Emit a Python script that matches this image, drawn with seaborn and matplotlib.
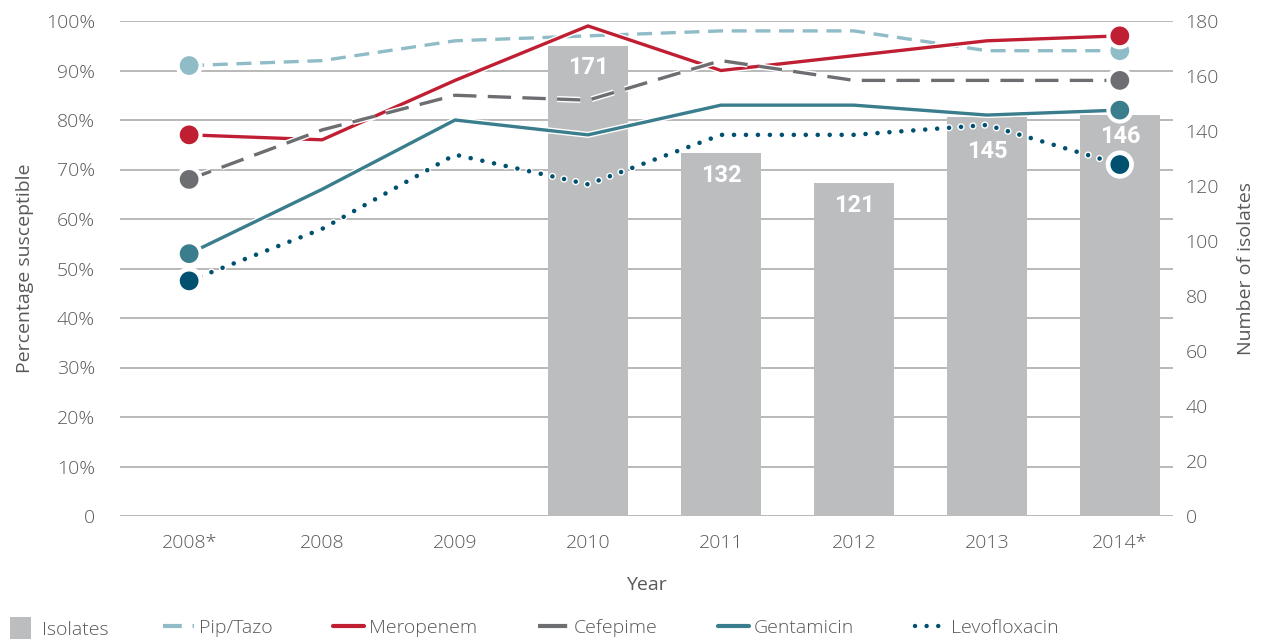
import numpy as np
import pandas as pd
import matplotlib
matplotlib.use("Agg")
import matplotlib.pyplot as plt
import matplotlib.patheffects as pe
from matplotlib.lines import Line2D
from matplotlib.patches import Patch
import seaborn as sns

# ---------------- data ----------------
years = ["2008*", "2008", "2009", "2010", "2011", "2012", "2013", "2014*"]
isolates = [np.nan, np.nan, np.nan, 171, 132, 121, 145, 146]
pip_tazo = [91, 92, 96, 97, 98, 98, 94, 94]
meropenem = [77, 76, 88, 99, 90, 93, 96, 97]
cefepime = [68, 78, 85, 84, 92, 88, 88, 88]
gentamicin = [53, 66, 80, 77, 83, 83, 81, 82]
levofloxacin = [47.5, 58, 73, 67, 77, 77, 79, 71]
pct_ticks = [0, 10, 20, 30, 40, 50, 60, 70, 80, 90, 100]
pct_labels = ["0", "10%", "20%", "30%", "40%", "50%", "60%", "70%", "80%", "90%", "100%"]
iso_ticks = [0, 20, 40, 60, 80, 100, 120, 140, 160, 180]

# ---------------- style ----------------
sns.set_theme(style="white")
plt.rcParams["font.family"] = ["Open Sans", "DejaVu Sans"]
plt.rcParams["font.weight"] = "light"
TXT = "#58595b"
GRID = "#b3b3b3"
BAR = "#bcbdbf"
FS = 14
label_offset = {"2013": -25}   # points below bar top (default -16)

series = [
    ("Pip/Tazo", pip_tazo, "#8fbcc6", (0, (4.5, 2.6)), "butt", 2.4),
    ("Meropenem", meropenem, "#c01f33", "-", "butt", 2.4),
    ("Cefepime", cefepime, "#6d6e71", (0, (7.0, 3.4)), "butt", 2.4),
    ("Gentamicin", gentamicin, "#3a7d8c", "-", "butt", 2.4),
    ("Levofloxacin", levofloxacin, "#005170", (0, (0.01, 2.6)), "round", 3.3),
]

fig = plt.figure(figsize=(12.62, 6.41), dpi=100)
ax = fig.add_axes([120 / 1262, 1 - 516 / 641, (1173 - 120) / 1262, (516 - 21) / 641])
ax2 = ax.twinx()
ax3 = ax.twinx()

pos = np.arange(len(years))
xlim = (-0.52, 7.40)

# grid / left axis
ax.set_xlim(*xlim)
ax.set_ylim(0, 100)
ax.set_yticks(pct_ticks)
ax.set_yticklabels(pct_labels)
for y in pct_ticks:
    ax.axhline(y, color=GRID, lw=1.3, zorder=0)
ax.grid(False)
for s in ax.spines.values():
    s.set_visible(False)
ax.tick_params(axis="y", length=0, pad=18, labelsize=FS, labelcolor=TXT)
ax.tick_params(axis="x", length=0, pad=13, labelsize=FS, labelcolor=TXT)
ax.set_xticks(pos)
ax.set_xticklabels(years)
ax.set_ylabel("Percentage susceptible", fontsize=FS, color=TXT)
ax.yaxis.set_label_coords(-0.0817, 0.5)
ax.set_xlabel("Year", fontsize=FS, color=TXT)
ax.xaxis.set_label_coords(0.5, -0.122)

# bars on right axis
df_bar = pd.DataFrame({"pos": pos, "isolates": isolates})
sns.barplot(data=df_bar, x="pos", y="isolates", ax=ax2, color=BAR, saturation=1,
            width=0.6, native_scale=True, edgecolor="none", linewidth=0)
ax2.set_xlim(*xlim)
ax2.set_ylim(0, 180)
ax2.set_yticks(iso_ticks)
ax2.tick_params(axis="y", length=0, pad=9, labelsize=FS, labelcolor=TXT,
                right=True, labelright=True, left=False, labelleft=False)
ax2.set_ylabel("Number of isolates", fontsize=FS, color=TXT)
ax2.yaxis.set_label_position("right")
ax2.yaxis.set_label_coords(1.0608, 0.5)
ax2.set_xlabel("")
ax2.grid(False)
for s in ax2.spines.values():
    s.set_visible(False)
for p, v, yr in zip(pos, isolates, years):
    if not np.isnan(v):
        ax2.annotate(f"{int(v)}", (p, v), xytext=(0, label_offset.get(yr, -16)),
                     textcoords="offset points",
                     ha="center", va="center", color="white", fontsize=17,
                     fontweight="bold", family=["Roboto", "DejaVu Sans"])

# lines on top
for name, vals, col, ls, cap, lw in series:
    sns.lineplot(x=pos, y=vals, ax=ax3, color=col, lw=lw, linestyle=ls,
                 dash_capstyle=cap, solid_capstyle="butt",
                 marker="o", markevery=[0, len(pos) - 1], markersize=15,
                 markeredgecolor="white", markeredgewidth=1.5,
                 path_effects=[pe.withStroke(linewidth=lw + 2.0, foreground="white")])
ax3.set_xlim(*xlim)
ax3.set_ylim(0, 100)
ax3.set_yticks([])
ax3.set_xlabel("")
ax3.set_ylabel("")
ax3.grid(False)
for s in ax3.spines.values():
    s.set_visible(False)
if ax3.get_legend():
    ax3.get_legend().remove()

# legends
ly = 1 - 628 / 641
leg1 = fig.legend(handles=[Patch(facecolor=BAR, edgecolor="none", label="Isolates")],
                  loc="center left", bbox_to_anchor=(10 / 1262, ly), frameon=False,
                  fontsize=FS, handlelength=1.08, handleheight=1.3, handletextpad=0.57,
                  labelcolor=TXT, borderaxespad=0, borderpad=0)
handles = [Line2D([], [], color=col, lw=3.2 if cap == "round" else 3, linestyle=ls,
                  dash_capstyle=cap, label=name)
           for name, vals, col, ls, cap, lw in series]
leg2 = fig.legend(handles=handles, loc="center left", bbox_to_anchor=(163 / 1262, ly),
                  ncol=5, frameon=False, fontsize=FS, handlelength=1.6,
                  handletextpad=0.26, columnspacing=3.1, labelcolor=TXT,
                  borderaxespad=0, borderpad=0)

fig.savefig("out.png", dpi=100)
